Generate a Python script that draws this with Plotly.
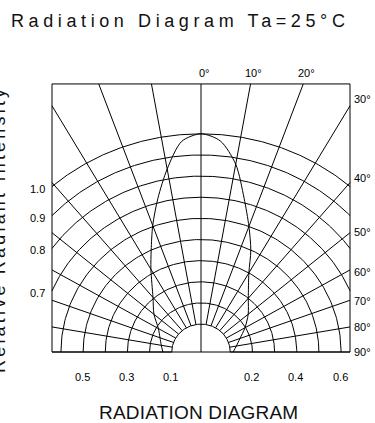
import numpy as np
import plotly.graph_objects as go

# ---- data ----
grid_values = [0.1, 0.2, 0.3, 0.4, 0.5, 0.6, 0.7, 0.8, 0.9, 1.0]
spoke_angles = [-90, -80, -70, -60, -50, -40, -30, -20, -10, 0, 10, 20, 30, 40, 50, 60, 70, 80, 90]
lobe_angles = [-90, -80, -70, -60, -50, -40, -30, -25, -20, -15, -10, -5, 0,
               5, 10, 15, 20, 25, 30, 40, 50, 60, 70, 80, 90]
lobe_values = [0.14, 0.15, 0.165, 0.19, 0.245, 0.305, 0.42, 0.50, 0.605, 0.72, 0.847, 0.968, 1.0,
               0.97, 0.87, 0.72, 0.60, 0.50, 0.40, 0.30, 0.246, 0.197, 0.155, 0.13, 0.113]
top_labels = ["0°", "10°", "20°"]
top_label_angles = [0, 10, 20]
right_labels = ["30°", "40°", "50°", "60°", "70°", "80°", "90°"]
right_label_angles = [30, 40, 50, 60, 70, 80, 90]
left_labels = ["1.0", "0.9", "0.8", "0.7"]
left_label_values = [1.0, 0.9, 0.8, 0.7]
bottom_labels = ["0.5", "0.3", "0.1", "0.2", "0.4", "0.6"]
bottom_label_values = [-0.5, -0.3, -0.1, 0.2, 0.4, 0.6]

# ---- geometry helpers ----
OFFSET = 0.032
BOX_X = 0.6724
BOX_TOP = 1.268


def R(v):
    return v + OFFSET


W, H = 375, 423
CX, CY = 201, 352
SX, SY = 221.6, 211.4
x_range = [(0 - CX) / SX, (W - CX) / SX]
y_range = [(CY - H) / SY, CY / SY]

fig = go.Figure()
line_style = dict(color="black", width=1)

# box
fig.add_trace(go.Scatter(x=[-BOX_X, BOX_X, BOX_X, -BOX_X, -BOX_X],
                         y=[0, 0, BOX_TOP, BOX_TOP, 0],
                         mode="lines", line=line_style, hoverinfo="skip"))

# arcs
ax, ay = [], []
for v in grid_values:
    r = R(v)
    tmax = np.arcsin(min(1.0, BOX_X / r))
    t = np.linspace(-tmax, tmax, 200)
    ax += list(r * np.sin(t)) + [None]
    ay += list(r * np.cos(t)) + [None]
fig.add_trace(go.Scatter(x=ax, y=ay, mode="lines", line=line_style, hoverinfo="skip"))

# spokes
sx, sy = [], []
for a in spoke_angles:
    t = np.radians(a)
    s, c = np.sin(t), np.cos(t)
    r0 = 0.0 if a == 0 else R(grid_values[0])
    cands = []
    if abs(s) > 1e-9:
        cands.append(BOX_X / abs(s))
    if c > 1e-9:
        cands.append(BOX_TOP / c)
    r1 = min(cands)
    sx += [r0 * s, r1 * s, None]
    sy += [r0 * c, r1 * c, None]
fig.add_trace(go.Scatter(x=sx, y=sy, mode="lines", line=line_style, hoverinfo="skip"))

# lobe
lt = np.radians(lobe_angles)
lr = np.array([R(v) for v in lobe_values])
fig.add_trace(go.Scatter(x=lr * np.sin(lt), y=lr * np.cos(lt), mode="lines",
                         line=dict(color="black", width=1, shape="spline", smoothing=0.8),
                         hoverinfo="skip"))

tick_font = dict(family="Liberation Sans, Arial, sans-serif", size=11, color="#000000")
ann = []
for lab, a in zip(top_labels, top_label_angles):
    x = BOX_TOP * np.tan(np.radians(a))
    ann.append(dict(x=x, y=BOX_TOP, text=lab, showarrow=False, font=tick_font,
                    xanchor="center", yanchor="bottom", xshift=3, yshift=3))
right_shift = {30: 7, 40: 5, 50: 1, 60: -2, 70: -1, 80: 0, 90: 0}
for lab, a in zip(right_labels, right_label_angles):
    t = np.radians(a)
    y = BOX_X / np.tan(t) if a != 90 else 0.0
    ann.append(dict(x=BOX_X, y=y, text=lab, showarrow=False, font=tick_font,
                    xanchor="left", yanchor="middle", xshift=2, yshift=right_shift[a]))
for lab, v in zip(left_labels, left_label_values):
    r = R(v)
    y = np.sqrt(r ** 2 - BOX_X ** 2)
    ann.append(dict(x=-BOX_X, y=y, text=lab, showarrow=False, font=tick_font,
                    xanchor="center", yanchor="middle", xshift=-15, yshift=-2))
for lab, v in zip(bottom_labels, bottom_label_values):
    x = np.sign(v) * R(abs(v))
    ann.append(dict(x=x, y=0, text=lab, showarrow=False, font=tick_font,
                    xanchor="center", yanchor="middle", xshift=-1, yshift=-25))

big_font = dict(family="Liberation Sans, Arial, sans-serif", size=18, color="#111111")
ann.append(dict(xref="paper", yref="paper", x=180 / W, y=1 - 21 / H,
                text='<span style="letter-spacing:4.6px">Radiation Diagram Ta=25°C</span>',
                showarrow=False, font=big_font, xanchor="center", yanchor="middle"))
ann.append(dict(xref="paper", yref="paper", x=198 / W, y=1 - 412 / H,
                text='<span style="letter-spacing:0.2px">RADIATION DIAGRAM</span>',
                showarrow=False, font=dict(big_font, size=19), xanchor="center", yanchor="middle"))
ann.append(dict(xref="paper", yref="paper", x=-1 / W, y=1 - 230 / H,
                text='<span style="letter-spacing:3.2px">Relative Radiant Intensity</span>',
                showarrow=False, font=big_font, textangle=-90,
                xanchor="center", yanchor="middle"))

fig.update_layout(
    width=W, height=H, margin=dict(l=0, r=0, t=0, b=0),
    paper_bgcolor="white", plot_bgcolor="white", showlegend=False,
    xaxis=dict(range=x_range, visible=False, fixedrange=True),
    yaxis=dict(range=y_range, visible=False, fixedrange=True),
    annotations=ann,
)
fig.write_html("out.html", config={"displayModeBar": False},
               post_script="document.body.style.margin='0';document.body.style.overflow='hidden';")
